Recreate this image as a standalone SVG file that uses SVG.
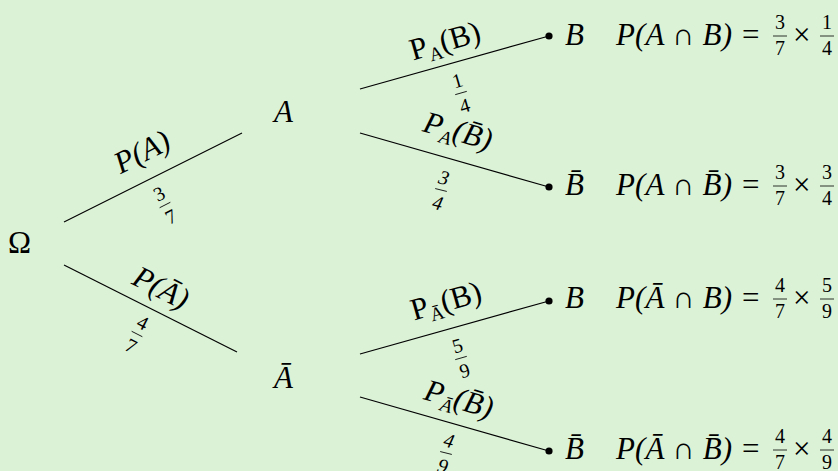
<svg xmlns="http://www.w3.org/2000/svg" width="838" height="471" viewBox="0 0 838 471">
<style>
.m{font-family:"Liberation Serif","DejaVu Serif",serif;font-size:31px;fill:#000}
.i{font-style:italic}
.s{font-size:19px}
.f{font-family:"Liberation Serif","DejaVu Serif",serif;font-size:20px;fill:#000;text-anchor:middle}
.c{text-anchor:middle}
.ln{stroke:#000;stroke-width:1.2;fill:none}
.bar{stroke:#000;stroke-width:0.8}
</style>
<rect width="838" height="471" fill="#dbf2d7"/>
<g id="connectors">
<line class="ln" x1="64" y1="222" x2="242" y2="133"/>
<line class="ln" x1="64" y1="265" x2="237" y2="352"/>
<line class="ln" x1="360" y1="89" x2="549" y2="36"/>
<line class="ln" x1="360" y1="133" x2="549" y2="187"/>
<line class="ln" x1="360" y1="354" x2="549" y2="301"/>
<line class="ln" x1="360" y1="397" x2="549" y2="451"/>
<circle cx="549" cy="36" r="3.6"/>
<circle cx="549" cy="187" r="3.6"/>
<circle cx="549" cy="301" r="3.6"/>
<circle cx="549" cy="451" r="3.6"/>
</g>
<g id="omega"><text class="m" x="8" y="253">Ω</text></g>
<g id="nodeA"><text class="m i" x="274" y="122">A</text></g>
<g id="nodeAbar"><text class="m i" x="274" y="388">Ā</text></g>
<g id="label-PA" transform="translate(142,152) rotate(-27)">
<text class="m i c" x="0" y="10">P(A)</text>
</g>
<g id="frac-37" transform="translate(165,205) rotate(-27)">
<text class="f" x="0" y="-6">3</text><line class="bar" x1="-6" y1="0" x2="6" y2="0"/><text class="f" x="0" y="20">7</text>
</g>
<g id="label-PAbar" transform="translate(161,288) rotate(27)">
<text class="m i c" x="0" y="10">P(Ā)</text>
</g>
<g id="frac-47" transform="translate(137,334) rotate(27)">
<text class="f" x="0" y="-6">4</text><line class="bar" x1="-6" y1="0" x2="6" y2="0"/><text class="f" x="0" y="20">7</text>
</g>
<g id="label-PAB" transform="translate(445,41) rotate(-16)">
<text class="m c" x="0" y="10">P<tspan class="s" dy="6">A</tspan><tspan dy="-6">(B)</tspan></text>
</g>
<g id="frac-14" transform="translate(461,93) rotate(-16)">
<text class="f" x="0" y="-6">1</text><line class="bar" x1="-6" y1="0" x2="6" y2="0"/><text class="f" x="0" y="20">4</text>
</g>
<g id="label-PABbar" transform="translate(458,131) rotate(16)">
<text class="m i c" x="0" y="10">P<tspan class="s" dy="6">A</tspan><tspan dy="-6">(B̄)</tspan></text>
</g>
<g id="frac-34" transform="translate(441,190) rotate(14)">
<text class="f i" x="0" y="-6">3</text><line class="bar" x1="-6" y1="0" x2="6" y2="0"/><text class="f i" x="0" y="20">4</text>
</g>
<g id="label-PAbarB" transform="translate(446,301) rotate(-16)">
<text class="m c" x="0" y="10">P<tspan class="s" dy="6">Ā</tspan><tspan dy="-6">(B)</tspan></text>
</g>
<g id="frac-59" transform="translate(461,358) rotate(-16)">
<text class="f" x="0" y="-6">5</text><line class="bar" x1="-6" y1="0" x2="6" y2="0"/><text class="f" x="0" y="20">9</text>
</g>
<g id="label-PAbarBbar" transform="translate(459,399) rotate(16)">
<text class="m i c" x="0" y="10">P<tspan class="s" dy="6">Ā</tspan><tspan dy="-6">(B̄)</tspan></text>
</g>
<g id="frac-49" transform="translate(446,453) rotate(14)">
<text class="f i" x="0" y="-6">4</text><line class="bar" x1="-6" y1="0" x2="6" y2="0"/><text class="f i" x="0" y="20">9</text>
</g>
<g id="leaf1">
<text class="m i" x="565" y="45">B</text>
<text class="m i" x="616" y="45" textLength="116">P(A ∩ B)</text>
<text class="m" x="742" y="45">=</text>
<text class="f" x="780" y="29">3</text><line class="bar" x1="773" y1="36" x2="787" y2="36"/><text class="f" x="780" y="55">7</text>
<text class="m" x="793" y="45">×</text>
<text class="f" x="827" y="29">1</text><line class="bar" x1="820" y1="36" x2="834" y2="36"/><text class="f" x="827" y="55">4</text>
</g>
<g id="leaf2">
<text class="m i" x="565" y="195">B̄</text>
<text class="m i" x="616" y="195" textLength="116">P(A ∩ B̄)</text>
<text class="m" x="742" y="195">=</text>
<text class="f" x="780" y="179">3</text><line class="bar" x1="773" y1="186" x2="787" y2="186"/><text class="f" x="780" y="205">7</text>
<text class="m" x="793" y="195">×</text>
<text class="f" x="827" y="179">3</text><line class="bar" x1="820" y1="186" x2="834" y2="186"/><text class="f" x="827" y="205">4</text>
</g>
<g id="leaf3">
<text class="m i" x="565" y="308">B</text>
<text class="m i" x="616" y="308" textLength="116">P(Ā ∩ B)</text>
<text class="m" x="742" y="308">=</text>
<text class="f" x="780" y="292">4</text><line class="bar" x1="773" y1="299" x2="787" y2="299"/><text class="f" x="780" y="318">7</text>
<text class="m" x="793" y="308">×</text>
<text class="f" x="827" y="292">5</text><line class="bar" x1="820" y1="299" x2="834" y2="299"/><text class="f" x="827" y="318">9</text>
</g>
<g id="leaf4">
<text class="m i" x="565" y="459">B̄</text>
<text class="m i" x="616" y="459" textLength="116">P(Ā ∩ B̄)</text>
<text class="m" x="742" y="459">=</text>
<text class="f" x="780" y="443">4</text><line class="bar" x1="773" y1="450" x2="787" y2="450"/><text class="f" x="780" y="469">7</text>
<text class="m" x="793" y="459">×</text>
<text class="f" x="827" y="443">4</text><line class="bar" x1="820" y1="450" x2="834" y2="450"/><text class="f" x="827" y="469">9</text>
</g>
</svg>
